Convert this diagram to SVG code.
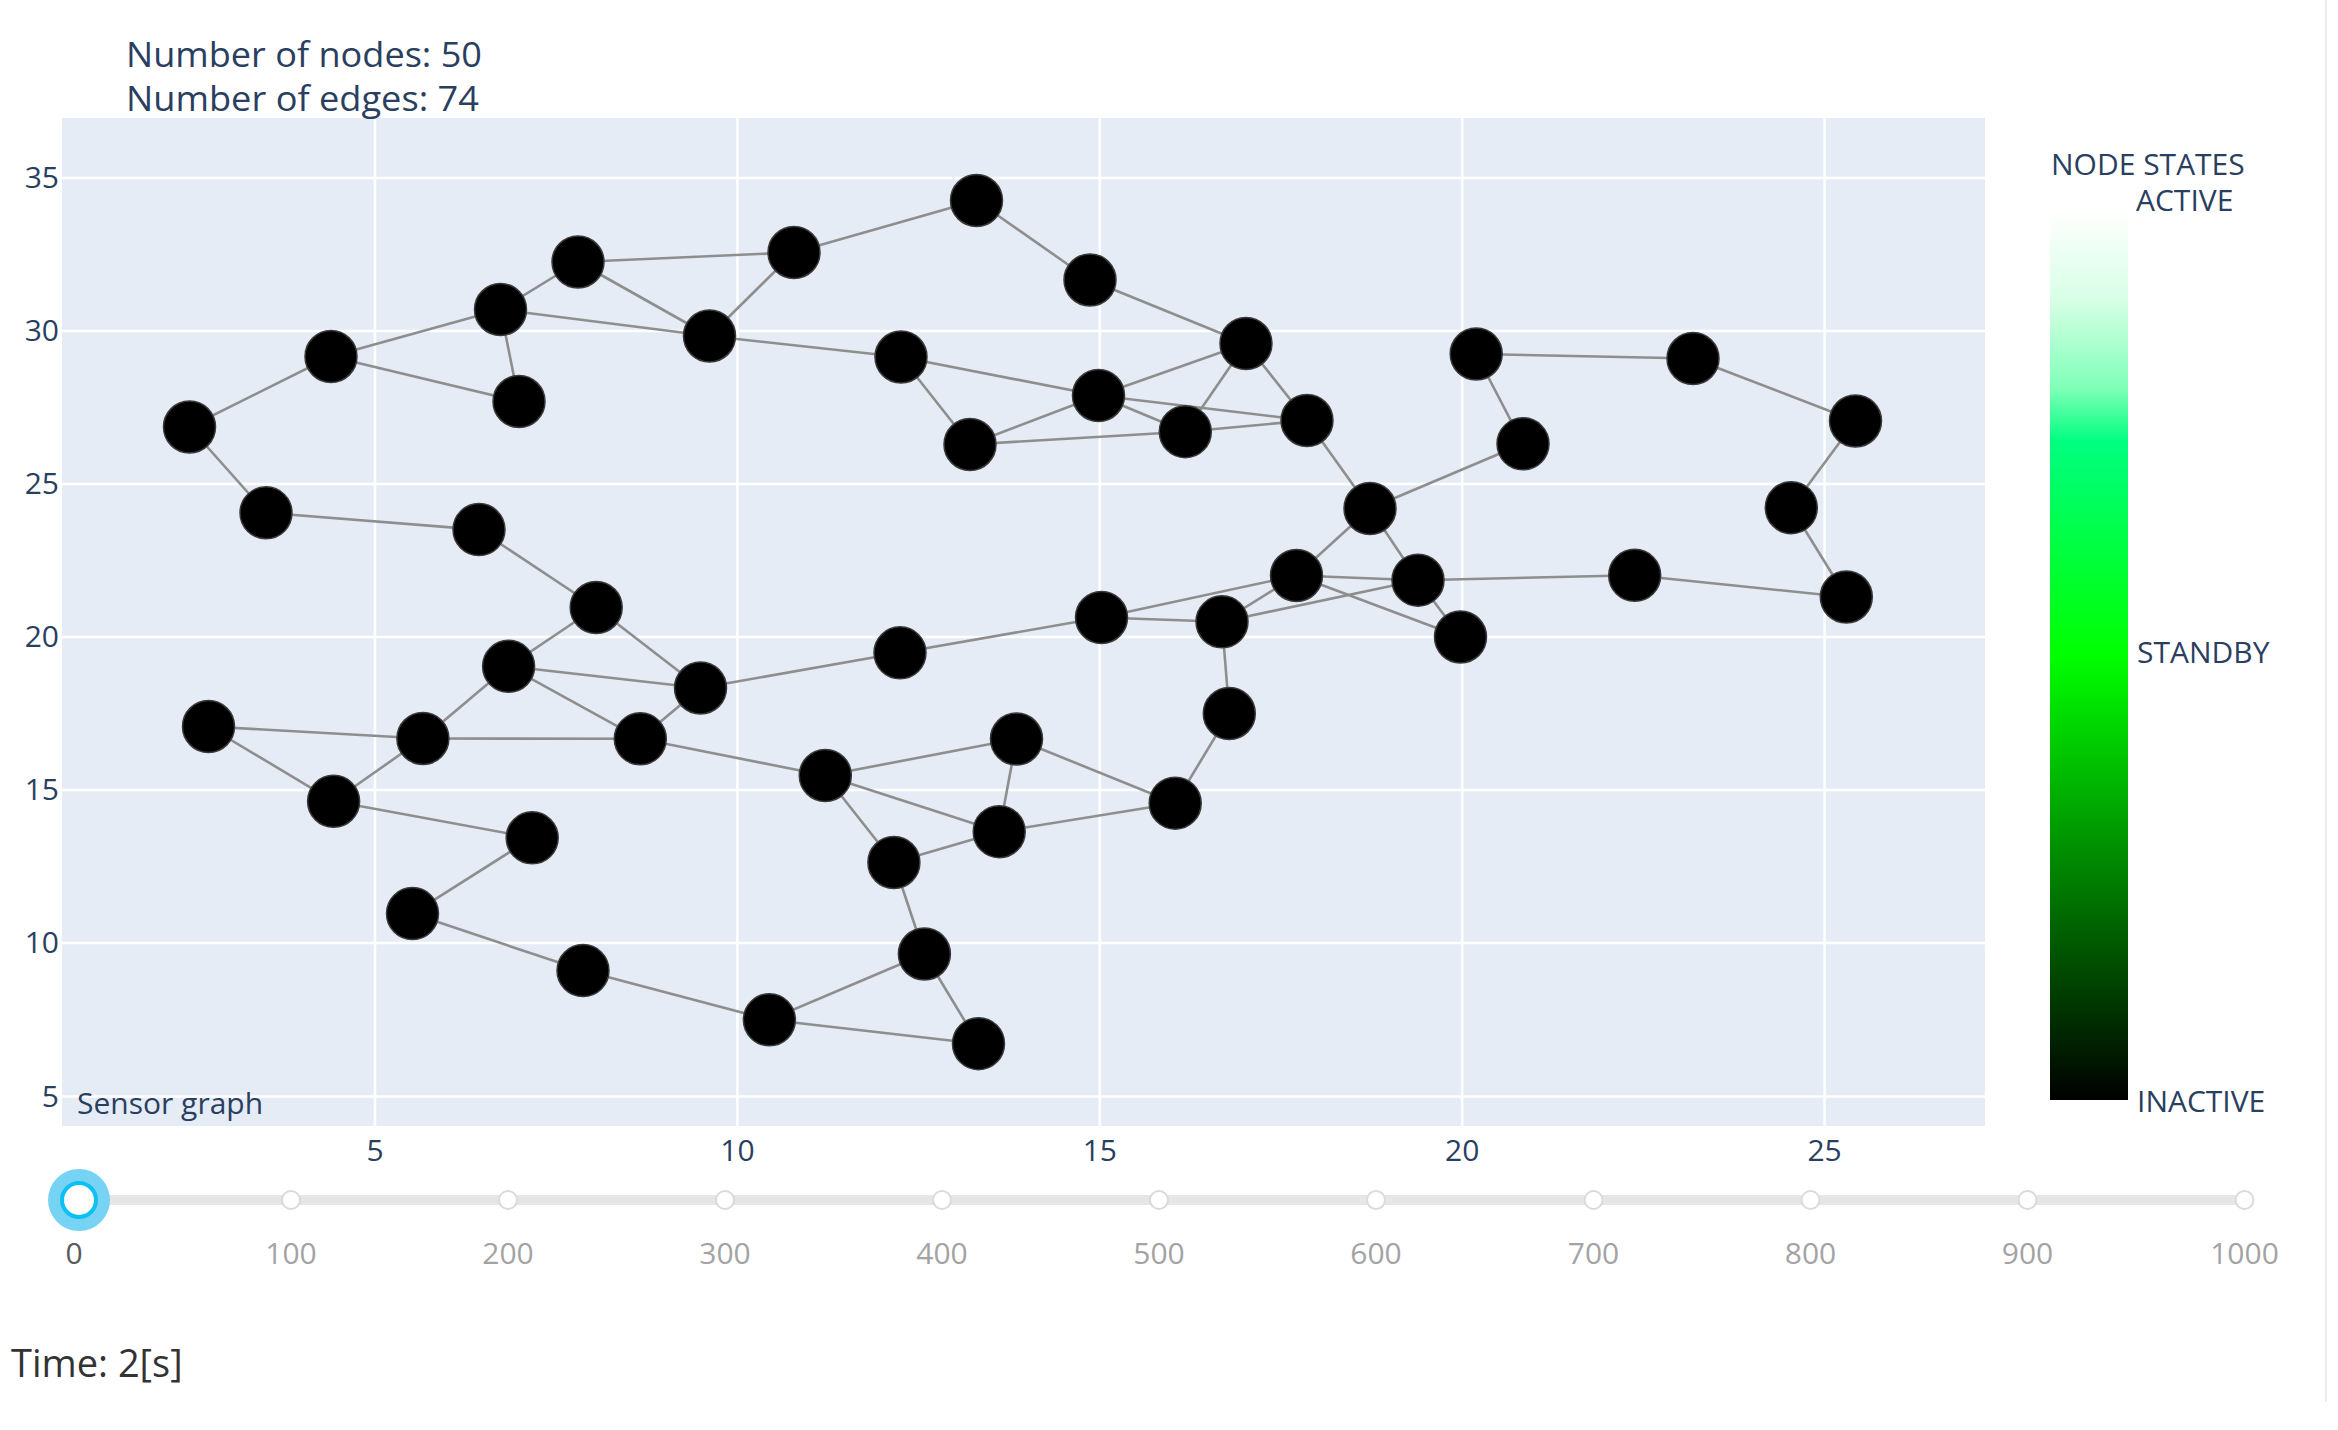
<svg xmlns="http://www.w3.org/2000/svg" width="2338" height="1430" viewBox="0 0 2338 1430">
<style>
.t{font-family:"Open Sans","Liberation Sans",sans-serif;fill:#2a3f5f}
.tick{font-size:30px}
.grid{stroke:#ffffff;stroke-width:2.5}
.edge{stroke:#8e8e8e;stroke-width:2.6}
.node{fill:#000000;stroke:#3a3a3a;stroke-width:1.5}
.sl{font-family:"Open Sans","Liberation Sans",sans-serif;font-size:30px;fill:#a3a3a3;text-anchor:middle}
.stk{fill:#ffffff;stroke:#dadada;stroke-width:2}
</style>
<defs>
<linearGradient id="cb" x1="0" y1="0" x2="0" y2="1">
<stop offset="0" stop-color="#ffffff"/>
<stop offset="0.1" stop-color="#d8ffe6"/>
<stop offset="0.2" stop-color="#80ffb8"/>
<stop offset="0.26" stop-color="#00ff80"/>
<stop offset="0.5" stop-color="#00ff00"/>
<stop offset="1" stop-color="#000000"/>
</linearGradient>
</defs>
<rect x="0" y="0" width="2338" height="1430" fill="#ffffff"/>
<line x1="2326" y1="0" x2="2326" y2="1402" stroke="#ececec" stroke-width="2"/>

<g id="plot">
<rect x="62" y="118" width="1923" height="1008" fill="#e5ecf6"/>
<g id="grid">
<line class="grid" x1="375" y1="118" x2="375" y2="1126"/>
<line class="grid" x1="737.4" y1="118" x2="737.4" y2="1126"/>
<line class="grid" x1="1099.8" y1="118" x2="1099.8" y2="1126"/>
<line class="grid" x1="1462.2" y1="118" x2="1462.2" y2="1126"/>
<line class="grid" x1="1824.6" y1="118" x2="1824.6" y2="1126"/>
<line class="grid" x1="62" y1="178" x2="1985" y2="178"/>
<line class="grid" x1="62" y1="331" x2="1985" y2="331"/>
<line class="grid" x1="62" y1="484" x2="1985" y2="484"/>
<line class="grid" x1="62" y1="637" x2="1985" y2="637"/>
<line class="grid" x1="62" y1="790" x2="1985" y2="790"/>
<line class="grid" x1="62" y1="943" x2="1985" y2="943"/>
<line class="grid" x1="62" y1="1096.5" x2="1985" y2="1096.5"/>
</g>
<g id="yticks" class="t tick" text-anchor="end">
<text x="59" y="188">35</text>
<text x="59" y="341">30</text>
<text x="59" y="494">25</text>
<text x="59" y="647">20</text>
<text x="59" y="800">15</text>
<text x="59" y="953">10</text>
<text x="59" y="1107">5</text>
</g>
<g id="xticks" class="t tick" text-anchor="middle">
<text x="375" y="1161">5</text>
<text x="737.4" y="1161">10</text>
<text x="1099.8" y="1161">15</text>
<text x="1462.2" y="1161">20</text>
<text x="1824.6" y="1161">25</text>
</g>
<text class="t" x="77" y="1114" font-size="30">Sensor graph</text>
</g>

<g id="connectors">
<line class="edge" x1="189.5" y1="427" x2="331" y2="356.5"/>
<line class="edge" x1="189.5" y1="427" x2="266" y2="512.8"/>
<line class="edge" x1="331" y1="356.5" x2="500.5" y2="309.5"/>
<line class="edge" x1="331" y1="356.5" x2="519" y2="401.5"/>
<line class="edge" x1="500.5" y1="309.5" x2="519" y2="401.5"/>
<line class="edge" x1="500.5" y1="309.5" x2="578" y2="262"/>
<line class="edge" x1="500.5" y1="309.5" x2="709.5" y2="336"/>
<line class="edge" x1="578" y1="262" x2="709.5" y2="336"/>
<line class="edge" x1="578" y1="262" x2="794" y2="252.5"/>
<line class="edge" x1="794" y1="252.5" x2="709.5" y2="336"/>
<line class="edge" x1="709.5" y1="336" x2="901" y2="357"/>
<line class="edge" x1="794" y1="252.5" x2="976.5" y2="200.5"/>
<line class="edge" x1="976.5" y1="200.5" x2="1090" y2="280"/>
<line class="edge" x1="1090" y1="280" x2="1246" y2="343.5"/>
<line class="edge" x1="901" y1="357" x2="1098.5" y2="395.5"/>
<line class="edge" x1="901" y1="357" x2="970" y2="444.5"/>
<line class="edge" x1="970" y1="444.5" x2="1098.5" y2="395.5"/>
<line class="edge" x1="970" y1="444.5" x2="1185.3" y2="431.7"/>
<line class="edge" x1="1098.5" y1="395.5" x2="1246" y2="343.5"/>
<line class="edge" x1="1098.5" y1="395.5" x2="1185.3" y2="431.7"/>
<line class="edge" x1="1098.5" y1="395.5" x2="1307" y2="420.5"/>
<line class="edge" x1="1185.3" y1="431.7" x2="1246" y2="343.5"/>
<line class="edge" x1="1185.3" y1="431.7" x2="1307" y2="420.5"/>
<line class="edge" x1="1246" y1="343.5" x2="1307" y2="420.5"/>
<line class="edge" x1="1307" y1="420.5" x2="1370" y2="508.5"/>
<line class="edge" x1="1370" y1="508.5" x2="1523" y2="443.8"/>
<line class="edge" x1="1476.2" y1="354" x2="1523" y2="443.8"/>
<line class="edge" x1="1476.2" y1="354" x2="1693" y2="358.5"/>
<line class="edge" x1="1693" y1="358.5" x2="1855.5" y2="421"/>
<line class="edge" x1="1855.5" y1="421" x2="1791.3" y2="507.7"/>
<line class="edge" x1="1791.3" y1="507.7" x2="1846.3" y2="597"/>
<line class="edge" x1="1846.3" y1="597" x2="1634.7" y2="575.3"/>
<line class="edge" x1="1634.7" y1="575.3" x2="1418" y2="580.2"/>
<line class="edge" x1="1370" y1="508.5" x2="1296.5" y2="575.5"/>
<line class="edge" x1="1370" y1="508.5" x2="1418" y2="580.2"/>
<line class="edge" x1="1296.5" y1="575.5" x2="1418" y2="580.2"/>
<line class="edge" x1="1101.5" y1="617.5" x2="1296.5" y2="575.5"/>
<line class="edge" x1="1101.5" y1="617.5" x2="1222" y2="621.8"/>
<line class="edge" x1="1222" y1="621.8" x2="1296.5" y2="575.5"/>
<line class="edge" x1="1222" y1="621.8" x2="1418" y2="580.2"/>
<line class="edge" x1="1296.5" y1="575.5" x2="1460.5" y2="637"/>
<line class="edge" x1="1418" y1="580.2" x2="1460.5" y2="637"/>
<line class="edge" x1="1222" y1="621.8" x2="1229.3" y2="713.5"/>
<line class="edge" x1="1229.3" y1="713.5" x2="1175.2" y2="803.2"/>
<line class="edge" x1="900" y1="652.8" x2="1101.5" y2="617.5"/>
<line class="edge" x1="700.5" y1="688" x2="900" y2="652.8"/>
<line class="edge" x1="596.2" y1="607.5" x2="479" y2="529.6"/>
<line class="edge" x1="479" y1="529.6" x2="266" y2="512.8"/>
<line class="edge" x1="596.2" y1="607.5" x2="508.6" y2="666.3"/>
<line class="edge" x1="596.2" y1="607.5" x2="700.5" y2="688"/>
<line class="edge" x1="508.6" y1="666.3" x2="700.5" y2="688"/>
<line class="edge" x1="508.6" y1="666.3" x2="640.3" y2="738.8"/>
<line class="edge" x1="508.6" y1="666.3" x2="422.9" y2="738.5"/>
<line class="edge" x1="208.5" y1="726.5" x2="422.9" y2="738.5"/>
<line class="edge" x1="208.5" y1="726.5" x2="333.6" y2="801.3"/>
<line class="edge" x1="422.9" y1="738.5" x2="333.6" y2="801.3"/>
<line class="edge" x1="422.9" y1="738.5" x2="640.3" y2="738.8"/>
<line class="edge" x1="640.3" y1="738.8" x2="700.5" y2="688"/>
<line class="edge" x1="640.3" y1="738.8" x2="825.3" y2="775.5"/>
<line class="edge" x1="333.6" y1="801.3" x2="532.2" y2="837.8"/>
<line class="edge" x1="532.2" y1="837.8" x2="412.5" y2="913.6"/>
<line class="edge" x1="412.5" y1="913.6" x2="583" y2="970.6"/>
<line class="edge" x1="583" y1="970.6" x2="769.4" y2="1019.8"/>
<line class="edge" x1="769.4" y1="1019.8" x2="924.4" y2="954"/>
<line class="edge" x1="769.4" y1="1019.8" x2="978.5" y2="1043.7"/>
<line class="edge" x1="924.4" y1="954" x2="978.5" y2="1043.7"/>
<line class="edge" x1="924.4" y1="954" x2="893.9" y2="862.5"/>
<line class="edge" x1="893.9" y1="862.5" x2="825.3" y2="775.5"/>
<line class="edge" x1="893.9" y1="862.5" x2="999.2" y2="831.7"/>
<line class="edge" x1="825.3" y1="775.5" x2="1016.5" y2="739"/>
<line class="edge" x1="825.3" y1="775.5" x2="999.2" y2="831.7"/>
<line class="edge" x1="1016.5" y1="739" x2="999.2" y2="831.7"/>
<line class="edge" x1="1016.5" y1="739" x2="1175.2" y2="803.2"/>
<line class="edge" x1="999.2" y1="831.7" x2="1175.2" y2="803.2"/>
</g>

<g id="nodes">
<g id="n1"><circle class="node" cx="976.5" cy="200.5" r="26"/></g>
<g id="n2"><circle class="node" cx="794" cy="252.5" r="26"/></g>
<g id="n3"><circle class="node" cx="578" cy="262" r="26"/></g>
<g id="n4"><circle class="node" cx="500.5" cy="309.5" r="26"/></g>
<g id="n5"><circle class="node" cx="709.5" cy="336" r="26"/></g>
<g id="n6"><circle class="node" cx="331" cy="356.5" r="26"/></g>
<g id="n7"><circle class="node" cx="519" cy="401.5" r="26"/></g>
<g id="n8"><circle class="node" cx="189.5" cy="427" r="26"/></g>
<g id="n9"><circle class="node" cx="1090" cy="280" r="26"/></g>
<g id="n10"><circle class="node" cx="1246" cy="343.5" r="26"/></g>
<g id="n11"><circle class="node" cx="901" cy="357" r="26"/></g>
<g id="n12"><circle class="node" cx="1098.5" cy="395.5" r="26"/></g>
<g id="n13"><circle class="node" cx="970" cy="444.5" r="26"/></g>
<g id="n14"><circle class="node" cx="1185.3" cy="431.7" r="26"/></g>
<g id="n15"><circle class="node" cx="1307" cy="420.5" r="26"/></g>
<g id="n16"><circle class="node" cx="1476.2" cy="354" r="26"/></g>
<g id="n17"><circle class="node" cx="1693" cy="358.5" r="26"/></g>
<g id="n18"><circle class="node" cx="1855.5" cy="421" r="26"/></g>
<g id="n19"><circle class="node" cx="1523" cy="443.8" r="26"/></g>
<g id="n20"><circle class="node" cx="1791.3" cy="507.7" r="26"/></g>
<g id="n21"><circle class="node" cx="1846.3" cy="597" r="26"/></g>
<g id="n22"><circle class="node" cx="1370" cy="508.5" r="26"/></g>
<g id="n23"><circle class="node" cx="266" cy="512.8" r="26"/></g>
<g id="n24"><circle class="node" cx="479" cy="529.6" r="26"/></g>
<g id="n25"><circle class="node" cx="1296.5" cy="575.5" r="26"/></g>
<g id="n26"><circle class="node" cx="1418" cy="580.2" r="26"/></g>
<g id="n27"><circle class="node" cx="1634.7" cy="575.3" r="26"/></g>
<g id="n28"><circle class="node" cx="596.2" cy="607.5" r="26"/></g>
<g id="n29"><circle class="node" cx="1101.5" cy="617.5" r="26"/></g>
<g id="n30"><circle class="node" cx="1222" cy="621.8" r="26"/></g>
<g id="n31"><circle class="node" cx="1460.5" cy="637" r="26"/></g>
<g id="n32"><circle class="node" cx="900" cy="652.8" r="26"/></g>
<g id="n33"><circle class="node" cx="508.6" cy="666.3" r="26"/></g>
<g id="n34"><circle class="node" cx="700.5" cy="688" r="26"/></g>
<g id="n35"><circle class="node" cx="208.5" cy="726.5" r="26"/></g>
<g id="n36"><circle class="node" cx="422.9" cy="738.5" r="26"/></g>
<g id="n37"><circle class="node" cx="640.3" cy="738.8" r="26"/></g>
<g id="n38"><circle class="node" cx="1016.5" cy="739" r="26"/></g>
<g id="n39"><circle class="node" cx="1229.3" cy="713.5" r="26"/></g>
<g id="n40"><circle class="node" cx="825.3" cy="775.5" r="26"/></g>
<g id="n41"><circle class="node" cx="333.6" cy="801.3" r="26"/></g>
<g id="n42"><circle class="node" cx="1175.2" cy="803.2" r="26"/></g>
<g id="n43"><circle class="node" cx="999.2" cy="831.7" r="26"/></g>
<g id="n44"><circle class="node" cx="532.2" cy="837.8" r="26"/></g>
<g id="n45"><circle class="node" cx="893.9" cy="862.5" r="26"/></g>
<g id="n46"><circle class="node" cx="412.5" cy="913.6" r="26"/></g>
<g id="n47"><circle class="node" cx="924.4" cy="954" r="26"/></g>
<g id="n48"><circle class="node" cx="583" cy="970.6" r="26"/></g>
<g id="n49"><circle class="node" cx="769.4" cy="1019.8" r="26"/></g>
<g id="n50"><circle class="node" cx="978.5" cy="1043.7" r="26"/></g>
</g>

<g id="annotations" class="t" font-size="35">
<text x="126" y="66.5" textLength="356" lengthAdjust="spacingAndGlyphs">Number of nodes: 50</text>
<text x="126" y="111" textLength="353" lengthAdjust="spacingAndGlyphs">Number of edges: 74</text>
</g>

<g id="colorbar">
<rect x="2050" y="210" width="78" height="890" fill="url(#cb)"/>
<g class="t" font-size="30">
<text x="2051" y="174.5">NODE STATES</text>
<text x="2136" y="211">ACTIVE</text>
<text x="2137" y="663">STANDBY</text>
<text x="2137" y="1111.5">INACTIVE</text>
</g>
</g>

<g id="slider">
<line x1="78" y1="1200" x2="2245" y2="1200" stroke="#e6e6e6" stroke-width="10" stroke-linecap="round"/>
<circle class="stk" cx="291" cy="1200" r="9"/>
<circle class="stk" cx="508" cy="1200" r="9"/>
<circle class="stk" cx="725" cy="1200" r="9"/>
<circle class="stk" cx="942" cy="1200" r="9"/>
<circle class="stk" cx="1159" cy="1200" r="9"/>
<circle class="stk" cx="1376" cy="1200" r="9"/>
<circle class="stk" cx="1593.5" cy="1200" r="9"/>
<circle class="stk" cx="1810.5" cy="1200" r="9"/>
<circle class="stk" cx="2027.5" cy="1200" r="9"/>
<circle class="stk" cx="2244.5" cy="1200" r="9"/>
<circle cx="79" cy="1200" r="31" fill="#76d3f3"/>
<circle cx="79" cy="1200" r="17" fill="#ffffff" stroke="#0cc0f2" stroke-width="4"/>
<text class="sl" x="74" y="1264" style="fill:#5a5a5a">0</text>
<text class="sl" x="291" y="1264">100</text>
<text class="sl" x="508" y="1264">200</text>
<text class="sl" x="725" y="1264">300</text>
<text class="sl" x="942" y="1264">400</text>
<text class="sl" x="1159" y="1264">500</text>
<text class="sl" x="1376" y="1264">600</text>
<text class="sl" x="1593.5" y="1264">700</text>
<text class="sl" x="1810.5" y="1264">800</text>
<text class="sl" x="2027.5" y="1264">900</text>
<text class="sl" x="2244.5" y="1264">1000</text>
</g>

<text x="11" y="1377" font-family="'Open Sans','Liberation Sans',sans-serif" font-size="38" fill="#333333">Time: 2[s]</text>
</svg>
